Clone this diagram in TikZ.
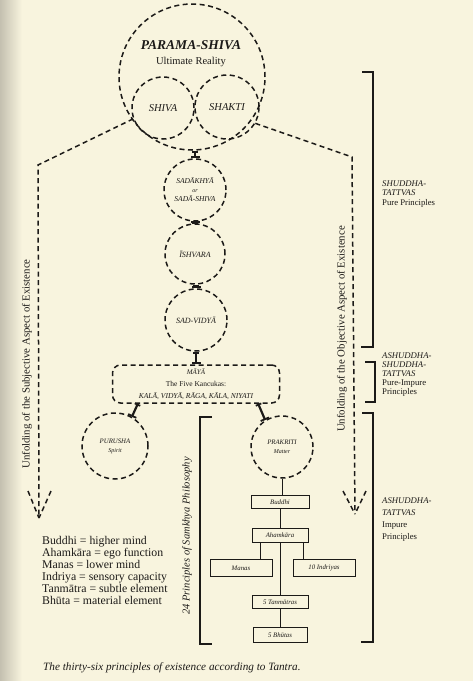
\documentclass[tikz,border=0pt]{standalone}
\usepackage{fontspec}
\setmainfont{Liberation Serif}
\usetikzlibrary{arrows.meta,calc}
\definecolor{bgc}{RGB}{248,244,222}
\definecolor{gutter}{RGB}{196,192,176}
\definecolor{ink}{RGB}{28,26,24}
\newcommand\fsz[2]{\fontsize{#1}{#2}\selectfont}
\begin{document}
\begin{tikzpicture}[x=1pt,y=-1pt,
  dsh/.style={draw=ink, line width=1.5pt, dash pattern=on 5pt off 3.5pt},
  dcirc/.style={dsh, circle, inner sep=0pt, minimum size=#1, text=ink, align=center},
  lbl/.style={inner sep=0pt, text=ink, align=center},
  stub/.style={draw=ink, line width=2.2pt, {Bar[width=6pt,line width=1.8pt]}-{Bar[width=9pt,line width=1.8pt]}},
  sbox/.style={draw=ink, line width=1pt, rectangle, inner sep=0pt, text=ink, font=\fsz{6.8}{8}\itshape},
  link/.style={draw=ink, line width=0.9pt},
  brk/.style={draw=ink, line width=1.3pt},
  side/.style={inner sep=0pt, text=ink, align=left, anchor=west}]
\fill[bgc] (0,0) rectangle (473,681);
\shade[left color=gutter, right color=bgc] (0,0) rectangle (22,681);
\useasboundingbox (0,0) rectangle (473,681);

% top circles
\node[dcirc=146pt] (parama) at (192,77) {};
\node[lbl, font=\fsz{13.5}{15}\bfseries\itshape] (ptitle) at (191,45) {PARAMA-SHIVA};
\node[lbl, font=\fsz{10.5}{12}] (preal) at (191,62) {Ultimate Reality};
\node[dcirc=62pt, font=\fsz{10.5}{12}\itshape] (shiva) at (163,108) {SHIVA};
\node[dcirc=64pt, font=\fsz{10.5}{12}\itshape] (shakti) at (227,107) {SHAKTI};

% chain
\node[dcirc=62pt, font=\fsz{7.5}{9.5}\itshape] (sada) at (195,190) {SADĀKHYĀ\\[-1pt]{\fsz{6}{7}or}\\SADĀ-SHIVA};
\node[dcirc=60pt, font=\fsz{8}{10}\itshape] (ishvara) at (195,254) {ĪSHVARA};
\node[dcirc=62pt, font=\fsz{8}{10}\itshape] (sadv) at (196,320) {SAD-VIDYĀ};
\node[dsh, rectangle, rounded corners=8pt, minimum width=167pt, minimum height=38pt, inner sep=0pt, text=ink, align=center] (maya) at (196,384)
  {{\fsz{7}{9}\itshape MĀYĀ}\\{\fsz{7.5}{10}The Five Kancukas:}\\{\fsz{7.5}{10}\itshape KALĀ, VIDYĀ, RĀGA, KĀLA, NIYATI}};
\node[dcirc=66pt, font=\fsz{6.8}{9}\itshape] (purusha) at (115,446) {PURUSHA\\{\fsz{6}{8}Spirit}};
\node[dcirc=62pt, font=\fsz{6.8}{9}\itshape] (prakriti) at (282,447) {PRAKRITI\\{\fsz{6}{8}Matter}};

\draw[stub] (sada.north |- parama.south) -- (sada.north);
\draw[stub] (ishvara.north |- sada.south) -- (ishvara.north);
\draw[stub] (sadv.north |- ishvara.south) -- (sadv.north);
\draw[stub] (maya.north |- sadv.south) -- (maya.north);
\draw[stub] ($(purusha.60 |- maya.south)+(6,0)$) -- (purusha.60);
\draw[stub] ($(prakriti.122 |- maya.south)+(-7,0)$) -- (prakriti.122);

% samkhya boxes
\node[sbox, minimum width=58pt, minimum height=13pt] (buddhi) at (280,502) {Buddhi};
\node[sbox, minimum width=56pt, minimum height=14pt] (aham) at (280,535) {Ahamkāra};
\node[sbox, minimum width=62pt, minimum height=17pt] (manas) at (241,568) {Manas};
\node[sbox, minimum width=62pt, minimum height=17pt] (indr) at (324,568) {10 Indriyas};
\node[sbox, minimum width=56pt, minimum height=13pt] (tanm) at (280,602) {5 Tanmātras};
\node[sbox, minimum width=54pt, minimum height=15pt] (bhut) at (280,635) {5 Bhūtas};
\coordinate (mtop) at ($(aham.south)+(-20,0)$);
\coordinate (itop) at ($(aham.south)+(23,0)$);
\draw[link] (prakriti.south) -- (prakriti.south |- buddhi.north);
\draw[link] (buddhi) -- (aham);
\draw[link] (aham) -- (tanm);
\draw[link] (tanm) -- (bhut);
\draw[link] (mtop) -- (mtop |- manas.north);
\draw[link] (itop) -- (itop |- indr.north);

% unfolding arrows
\coordinate (lc) at (38,165);
\coordinate (ltip) at (39,518);
\coordinate (lw1) at (28,491);
\coordinate (lw2) at (51,491);
\draw[dsh] (shiva.200) -- (lc) -- (ltip);
\draw[dsh] (lw1) -- (ltip);
\draw[dsh] (lw2) -- (ltip);
\coordinate (rc) at (352,157);
\coordinate (rtip) at (355,514);
\coordinate (rw1) at (343,491);
\coordinate (rw2) at (366,491);
\draw[dsh] (shakti.330) -- (rc) -- (rtip);
\draw[dsh] (rw1) -- (rtip);
\draw[dsh] (rw2) -- (rtip);
\node[lbl, rotate=90, font=\fsz{10.8}{12}] (lunf) at (27,364) {Unfolding of the Subjective Aspect of Existence};
\node[lbl, rotate=90, font=\fsz{10.8}{12}] (runf) at (342,329) {Unfolding of the Objective Aspect of Existence};

% samkhya bracket
\coordinate (sb1) at (212,417);
\coordinate (sb2) at (200,417);
\coordinate (sb3) at (200,644);
\coordinate (sb4) at (212,644);
\draw[brk] (sb1) -- (sb2) -- (sb3) -- (sb4);
\node[lbl, rotate=90, font=\fsz{10.5}{12}\itshape] (samk) at (187,536) {24 Principles of Samkhya Philosophy};

% right brackets
\coordinate (a1) at (362,72);
\coordinate (a2) at (373,72);
\coordinate (a3) at (373,347);
\coordinate (a4) at (361,347);
\draw[brk] (a1) -- (a2) -- (a3) -- (a4);
\coordinate (b1) at (365,362);
\coordinate (b2) at (375,362);
\coordinate (b3) at (375,402);
\coordinate (b4) at (365,402);
\draw[brk] (b1) -- (b2) -- (b3) -- (b4);
\coordinate (c1) at (362,413);
\coordinate (c2) at (373,413);
\coordinate (c3) at (373,642);
\coordinate (c4) at (361,642);
\draw[brk] (c1) -- (c2) -- (c3) -- (c4);
\node[side, font=\fsz{8.7}{9.5}] (shud) at (382,194) {\textit{SHUDDHA-}\\\textit{TATTVAS}\\Pure Principles};
\node[side, font=\fsz{8.7}{9}] (ashs) at (382,375) {\textit{ASHUDDHA-}\\\textit{SHUDDHA-}\\\textit{TATTVAS}\\Pure-Impure\\Principles};
\node[side, font=\fsz{8.7}{12}] (ashu) at (382,520) {\textit{ASHUDDHA-}\\\textit{TATTVAS}\\Impure\\Principles};

% legend
\node[side, anchor=north west, font=\fsz{11.8}{12}] (legend) at (42,536) {Buddhi = higher mind\\Ahamkāra = ego function\\Manas = lower mind\\Indriya = sensory capacity\\Tanmātra = subtle element\\Bhūta = material element};

% caption
\node[side, font=\fsz{11.2}{13}\itshape] (caption) at (43,668) {The thirty-six principles of existence according to Tantra.};
\end{tikzpicture}
\end{document}
